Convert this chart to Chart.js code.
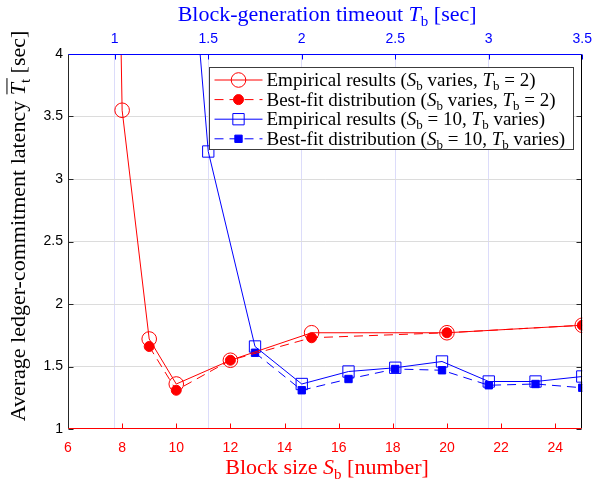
<!DOCTYPE html>
<html>
<head>
<meta charset="utf-8">
<script src="https://cdn.jsdelivr.net/npm/chart.js@4"></script>
<style>
  html, body { margin: 0; padding: 0; background: #fff; }
</style>
</head>
<body>
<canvas id="myChart" width="598" height="483"></canvas>
<script>
// red series, bottom axis (block size)
const blockSizes = [7, 8, 9, 10, 12, 15, 20, 25];
const latencyBySize = [16, 3.55, 1.72, 1.36, 1.55, 1.77, 1.77, 1.83];
const fitSizes = [9, 10, 12, 15, 20, 25];
const fitLatencyBySize = [1.66, 1.31, 1.55, 1.73, 1.77, 1.83];

// blue series, top axis (timeout)
const timeouts = [1.25, 1.5, 1.75, 2, 2.25, 2.5, 2.75, 3, 3.25, 3.5];
const latencyByTimeout = [7.7, 3.22, 1.66, 1.36, 1.46, 1.49, 1.54, 1.38, 1.38, 1.42];
const fitTimeouts = [1.75, 2, 2.25, 2.5, 2.75, 3, 3.25, 3.5];
const fitLatencyByTimeout = [1.61, 1.31, 1.40, 1.48, 1.47, 1.35, 1.36, 1.33];

const sizeTicks = [6, 8, 10, 12, 14, 16, 18, 20, 22, 24];
const timeoutTicks = [1, 1.5, 2, 2.5, 3, 3.5];
const latencyTicks = [1, 1.5, 2, 2.5, 3, 3.5, 4];

// text pieces: n = normal, i = italic, s = subscript, o = italic with bar
const legendLabels = [
  [['Empirical results (', 'n'], ['S', 'i'], ['b', 's'], [' varies, ', 'n'], ['T', 'i'], ['b', 's'], [' = 2)', 'n']],
  [['Best-fit distribution (', 'n'], ['S', 'i'], ['b', 's'], [' varies, ', 'n'], ['T', 'i'], ['b', 's'], [' = 2)', 'n']],
  [['Empirical results (', 'n'], ['S', 'i'], ['b', 's'], [' = 10, ', 'n'], ['T', 'i'], ['b', 's'], [' varies)', 'n']],
  [['Best-fit distribution (', 'n'], ['S', 'i'], ['b', 's'], [' = 10, ', 'n'], ['T', 'i'], ['b', 's'], [' varies)', 'n']]
];
const bottomTitle = [['Block size ', 'n'], ['S', 'i'], ['b', 's'], [' [number]', 'n']];
const topTitle = [['Block-generation timeout ', 'n'], ['T', 'i'], ['b', 's'], [' [sec]', 'n']];
const leftTitle = [['Average ledger-commitment latency ', 'n'], ['T', 'o'], ['t', 's'], [' [sec]', 'n']];

const RED = '#ff0000';
const BLUE = '#0000ff';
const SERIF = '"Liberation Serif", "DejaVu Serif", serif';
const SANS = '"Liberation Sans", Arial, sans-serif';

function segFont(k, size) {
  if (k === 's') return Math.round(size * 0.7) + 'px ' + SERIF;
  if (k === 'i' || k === 'o') return 'italic ' + size + 'px ' + SERIF;
  return size + 'px ' + SERIF;
}

function richWidth(c, segs, size) {
  let w = 0;
  segs.forEach(([t, k]) => { c.font = segFont(k, size); w += c.measureText(t).width; });
  return w;
}

function drawRich(c, segs, x, y, size, color) {
  c.fillStyle = color;
  c.strokeStyle = color;
  c.textAlign = 'left';
  c.textBaseline = 'alphabetic';
  segs.forEach(([t, k]) => {
    c.font = segFont(k, size);
    const w = c.measureText(t).width;
    c.fillText(t, x, k === 's' ? y + size * 0.22 : y);
    if (k === 'o') {
      c.lineWidth = 1;
      c.beginPath();
      c.moveTo(x + 1, y - size * 0.82);
      c.lineTo(x + w + 5, y - size * 0.82);
      c.stroke();
    }
    x += w;
  });
}

const pts = (xs, ys) => xs.map((x, i) => ({x: x, y: ys[i]}));
const noLineAt = (edges, col) => (c) => edges.includes(c.tick && c.tick.value) ? 'rgba(0,0,0,0)' : col;

const framePlugin = {
  id: 'frame',
  afterDatasetsDraw(chart) {
    const c = chart.ctx;
    const a = chart.chartArea;
    const sx = chart.scales.x, sx2 = chart.scales.x2, sy = chart.scales.y;
    c.save();
    c.lineWidth = 1;
    const seg = (x1, y1, x2, y2, col) => {
      c.strokeStyle = col;
      c.beginPath(); c.moveTo(x1, y1); c.lineTo(x2, y2); c.stroke();
    };
    const L = Math.round(a.left) + 0.5, R = Math.round(a.right) - 0.5;
    const T = Math.round(a.top) + 0.5, B = Math.round(a.bottom) - 0.5;
    sizeTicks.forEach(v => { const px = Math.round(sx.getPixelForValue(v)) + 0.5; seg(px, B, px, B - 5, RED); });
    timeoutTicks.forEach(v => { const px = Math.round(sx2.getPixelForValue(v)) + 0.5; seg(px, T, px, T + 5, BLUE); });
    latencyTicks.forEach(v => {
      const py = Math.round(sy.getPixelForValue(v)) + 0.5;
      seg(L, py, L + 5, py, '#262626');
      seg(R, py, R - 5, py, '#262626');
    });
    seg(L, T, L, B, '#262626');
    seg(R, T, R, B, '#000000');
    seg(L, T, R, T, BLUE);
    seg(L, B, R, B, RED);

    // legend box
    const bx = 209.5, by = 67.5, bw = 364, bh = 82;
    c.fillStyle = '#ffffff';
    c.fillRect(bx, by, bw, bh);
    c.strokeStyle = '#3c3c3c';
    c.strokeRect(bx, by, bw, bh);
    chart.data.datasets.forEach((ds, i) => {
      const ry = by + 12.5 + i * 19.6;
      c.strokeStyle = ds.borderColor;
      c.lineWidth = ds.borderWidth;
      c.setLineDash(ds.borderDash || []);
      c.beginPath(); c.moveTo(bx + 5, ry); c.lineTo(bx + 53, ry); c.stroke();
      c.setLineDash([]);
      c.fillStyle = ds.pointBackgroundColor;
      c.strokeStyle = ds.pointBorderColor;
      Chart.helpers.drawPoint(c, {pointStyle: ds.pointStyle, radius: ds.pointRadius, borderWidth: 1, rotation: 0}, bx + 29, ry);
      drawRich(c, legendLabels[i], bx + 57, ry + 6, 19, '#000000');
    });
    c.restore();
  },
  afterDraw(chart) {
    const c = chart.ctx;
    const a = chart.chartArea;
    const mid = (a.left + a.right) / 2 + 2;
    c.save();
    let w = richWidth(c, bottomTitle, 22);
    drawRich(c, bottomTitle, mid - w / 2, 474, 22, RED);
    w = richWidth(c, topTitle, 22);
    drawRich(c, topTitle, mid - w / 2, 21, 22, BLUE);
    w = richWidth(c, leftTitle, 22);
    c.translate(25, 226);
    c.rotate(-Math.PI / 2);
    drawRich(c, leftTitle, -w / 2, 0, 22, '#000000');
    c.restore();
  }
};

const ctx = document.getElementById('myChart');

new Chart(ctx, {
  type: 'line',
  data: {
    datasets: [
      {
        label: 'Empirical results (Sb varies, Tb = 2)',
        data: pts(blockSizes, latencyBySize),
        xAxisID: 'x',
        borderColor: RED, borderWidth: 1,
        pointStyle: 'circle', pointRadius: 7.3, pointBorderWidth: 1,
        pointBorderColor: RED, pointBackgroundColor: 'rgba(0,0,0,0)'
      },
      {
        label: 'Best-fit distribution (Sb varies, Tb = 2)',
        data: pts(fitSizes, fitLatencyBySize),
        xAxisID: 'x',
        borderColor: RED, borderWidth: 1, borderDash: [9, 6],
        pointStyle: 'circle', pointRadius: 5, pointBorderWidth: 1,
        pointBorderColor: RED, pointBackgroundColor: RED
      },
      {
        label: 'Empirical results (Sb = 10, Tb varies)',
        data: pts(timeouts, latencyByTimeout),
        xAxisID: 'x2',
        borderColor: BLUE, borderWidth: 1,
        pointStyle: 'rect', pointRadius: 8, pointBorderWidth: 1,
        pointBorderColor: BLUE, pointBackgroundColor: 'rgba(0,0,0,0)'
      },
      {
        label: 'Best-fit distribution (Sb = 10, Tb varies)',
        data: pts(fitTimeouts, fitLatencyByTimeout),
        xAxisID: 'x2',
        borderColor: BLUE, borderWidth: 1, borderDash: [9, 6],
        pointStyle: 'rect', pointRadius: 5.2, pointBorderWidth: 1,
        pointBorderColor: BLUE, pointBackgroundColor: BLUE
      }
    ]
  },
  options: {
    responsive: false,
    animation: false,
    layout: { padding: { left: 0, right: 11, top: 0, bottom: 0 } },
    plugins: { legend: { display: false }, tooltip: { enabled: false } },
    scales: {
      x: {
        type: 'linear', position: 'bottom', min: 6, max: 25,
        afterBuildTicks: (s) => { s.ticks = sizeTicks.map(v => ({value: v})); },
        afterFit: (s) => { s.height = 54; },
        grid: { drawOnChartArea: false, drawTicks: false },
        border: { display: false },
        ticks: { color: RED, font: { family: SANS, size: 14 }, padding: 11, maxRotation: 0, callback: (v) => String(v) }
      },
      x2: {
        type: 'linear', position: 'top', min: 0.75, max: 3.5,
        afterBuildTicks: (s) => { s.ticks = timeoutTicks.map(v => ({value: v})); },
        afterFit: (s) => { s.height = 54; },
        grid: { color: noLineAt([3.5], '#dcdcfa'), drawTicks: false },
        border: { display: false },
        ticks: { color: BLUE, font: { family: SANS, size: 14 }, padding: 6, maxRotation: 0, callback: (v) => String(v) }
      },
      y: {
        min: 1, max: 4,
        afterBuildTicks: (s) => { s.ticks = latencyTicks.map(v => ({value: v})); },
        afterFit: (s) => { s.width = 68; },
        grid: { color: noLineAt([1, 4], '#dcdcdc'), drawTicks: false },
        border: { display: false },
        ticks: { color: '#000000', font: { family: SANS, size: 14 }, padding: 5, callback: (v) => String(v) }
      }
    }
  },
  plugins: [framePlugin]
});
</script>
</body>
</html>
